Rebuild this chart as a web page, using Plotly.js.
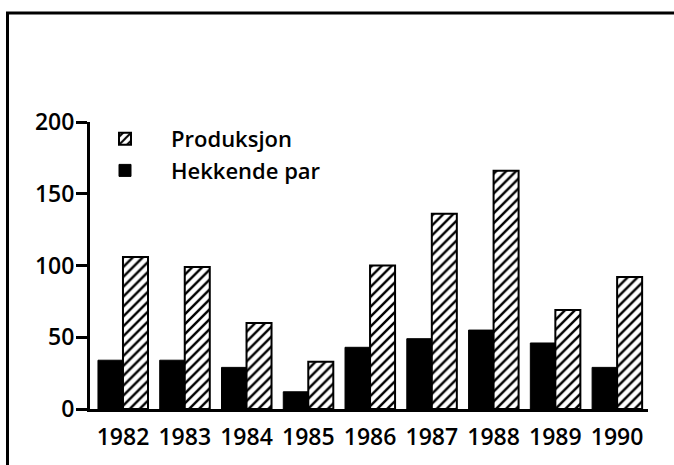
<!DOCTYPE html>
<html>
<head>
<meta charset="utf-8">
<script src="https://cdn.plot.ly/plotly-3.0.1.min.js"></script>
<style>html,body{margin:0;padding:0;background:#fff}#chart{width:674px;height:465px}</style>
</head>
<body>
<div id="chart"></div>
<script>
const years = ["1982","1983","1984","1985","1986","1987","1988","1989","1990"];
const hekkendePar = [34, 34, 29, 12, 43, 49, 55, 46, 29];
const produksjon = [106, 99, 60, 33, 100, 136, 166, 69, 92];
const yTicks = [0, 50, 100, 150, 200];

const font = {family: "Open Sans", size: 23, color: "#000", weight: 600};

const traces = [
  {
    type: "bar", name: "Hekkende par", x: years, y: hekkendePar,
    marker: {color: "#000", line: {color: "#000", width: 1}}
  },
  {
    type: "bar", name: "Produksjon", x: years, y: produksjon,
    marker: {
      color: "#fff",
      line: {color: "#000", width: 2},
      pattern: {shape: "/", fgcolor: "#000", bgcolor: "#fff", size: 7, solidity: 0.35}
    }
  }
];

const L = 90, R = 26, T = 122, B = 56;
const W = 674, H = 465;
const pw = W - L - R, ph = H - T - B;
const px = v => (v - L) / pw;
const py = v => (H - B - v) / ph;

const layout = {
  width: W, height: H,
  margin: {l: L, r: R, t: T, b: B, pad: 0},
  paper_bgcolor: "#fff", plot_bgcolor: "#fff",
  font: font,
  barmode: "group", bargap: 0.19, bargroupgap: 0,
  showlegend: true,
  legend: {
    x: px(79), y: py(118), xanchor: "left", yanchor: "top",
    traceorder: "reversed", bgcolor: "rgba(0,0,0,0)",
    font: {family: "Open Sans", size: 22, color: "#000", weight: 600},
    itemwidth: 82, tracegroupgap: 0
  },
  xaxis: {
    type: "category", range: [-0.534, 8.5],
    showline: true, linecolor: "#000", linewidth: 3,
    ticks: "", showgrid: false, zeroline: false,
    tickfont: font, ticklabelstandoff: 5, fixedrange: true
  },
  yaxis: {
    range: [0, 200], tickvals: yTicks, ticktext: yTicks.map(String),
    showline: true, linecolor: "#000", linewidth: 3,
    ticks: "outside", ticklen: 11, tickwidth: 3, tickcolor: "#000",
    showgrid: false, zeroline: false,
    tickfont: font, ticklabelstandoff: -3, fixedrange: true
  },
  shapes: [
    {type: "line", xref: "paper", yref: "paper", x0: px(6), x1: px(674), y0: py(13), y1: py(13), line: {color: "#000", width: 3}},
    {type: "line", xref: "paper", yref: "paper", x0: px(7.5), x1: px(7.5), y0: py(12), y1: py(465), line: {color: "#000", width: 3}}
  ]
};

Plotly.newPlot("chart", traces, layout, {displayModeBar: false, staticPlot: true});
</script>
</body>
</html>
